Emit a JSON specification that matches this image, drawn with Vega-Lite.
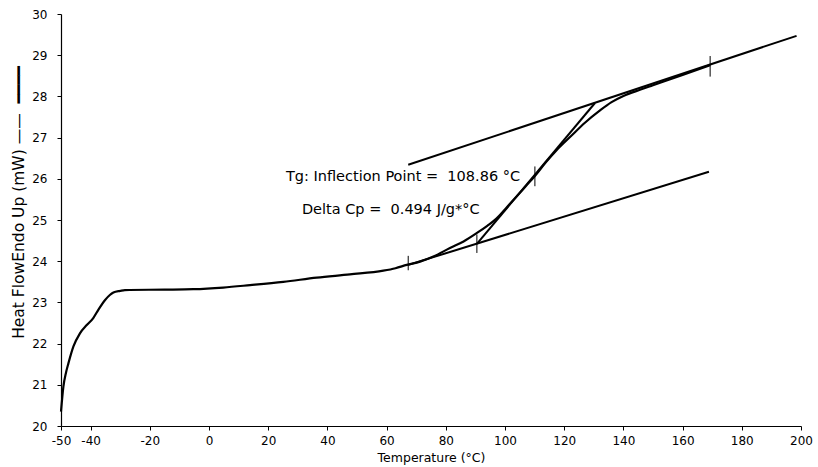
{
  "$schema": "https://vega.github.io/schema/vega-lite/v6.json",
  "width": 740,
  "height": 412,
  "autosize": "none",
  "padding": {"left": 61, "top": 14, "right": 17, "bottom": 41},
  "background": "white",
  "config": {
    "view": {"stroke": null},
    "font": "DejaVu Sans",
    "axis": {
      "grid": false,
      "domainColor": "black",
      "tickColor": "black",
      "labelColor": "black",
      "titleColor": "black",
      "labelFont": "DejaVu Sans",
      "titleFont": "DejaVu Sans",
      "labelFontSize": 12,
      "titleFontSize": 12.5,
      "titleFontWeight": "normal",
      "tickSize": 4,
      "domainWidth": 1.2,
      "tickWidth": 1,
      "labelFlush": false,
      "labelOverlap": false
    }
  },
  "datasets": {
    "curve": [
      {"T": -50.0, "v": 20.35},
      {"T": -49.2, "v": 20.95},
      {"T": -48.3, "v": 21.3},
      {"T": -47.5, "v": 21.52},
      {"T": -45.8, "v": 21.93},
      {"T": -43.6, "v": 22.25},
      {"T": -41.3, "v": 22.45},
      {"T": -39.1, "v": 22.62},
      {"T": -37.4, "v": 22.82},
      {"T": -35.1, "v": 23.06},
      {"T": -33.5, "v": 23.18},
      {"T": -32.3, "v": 23.24},
      {"T": -30.0, "v": 23.28},
      {"T": -28.4, "v": 23.30},
      {"T": -15.0, "v": 23.31},
      {"T": -5.3, "v": 23.32},
      {"T": 4.8, "v": 23.36},
      {"T": 13.9, "v": 23.42},
      {"T": 25.1, "v": 23.50},
      {"T": 36.4, "v": 23.60},
      {"T": 47.6, "v": 23.68},
      {"T": 58.9, "v": 23.77},
      {"T": 63.0, "v": 23.83},
      {"T": 66.8, "v": 23.91},
      {"T": 71.3, "v": 23.99},
      {"T": 76.0, "v": 24.12},
      {"T": 81.4, "v": 24.32},
      {"T": 86.0, "v": 24.48},
      {"T": 90.4, "v": 24.68},
      {"T": 94.0, "v": 24.86},
      {"T": 97.2, "v": 25.04},
      {"T": 100.5, "v": 25.30},
      {"T": 103.9, "v": 25.57},
      {"T": 107.0, "v": 25.82},
      {"T": 110.1, "v": 26.07},
      {"T": 113.8, "v": 26.40},
      {"T": 117.5, "v": 26.70},
      {"T": 122.5, "v": 27.05},
      {"T": 127.0, "v": 27.36},
      {"T": 132.1, "v": 27.66},
      {"T": 136.0, "v": 27.86},
      {"T": 140.0, "v": 28.01},
      {"T": 145.6, "v": 28.16},
      {"T": 150.0, "v": 28.27},
      {"T": 160.0, "v": 28.52},
      {"T": 169.3, "v": 28.76}
    ],
    "lines": [
      {"name": "upper tangent", "T": 67.3, "v": 26.34, "T2": 198.5, "v2": 29.47},
      {"name": "lower tangent", "T": 67.3, "v": 23.91, "T2": 168.9, "v2": 26.17},
      {"name": "half height", "T": 90.5, "v": 24.42, "T2": 130.4, "v2": 27.84}
    ],
    "ticks": [
      {"T": 67.3, "lo": 23.78, "hi": 24.13},
      {"T": 90.5, "lo": 24.2, "hi": 24.65},
      {"T": 110.1, "lo": 25.82, "hi": 26.3},
      {"T": 169.3, "lo": 28.48, "hi": 28.98}
    ],
    "labels": [
      {"T": 26.0, "v": 26.05, "text": "Tg: Inflection Point =\u00a0\u00a0108.86 °C"},
      {"T": 31.4, "v": 25.24, "text": "Delta Cp =\u00a0\u00a00.494 J/g*°C"}
    ]
  },
  "layer": [
    {
      "data": {"name": "curve"},
      "mark": {"type": "line", "color": "black", "strokeWidth": 2.2, "interpolate": "monotone"},
      "encoding": {
        "x": {
          "field": "T", "type": "quantitative",
          "scale": {"domain": [-50, 200], "nice": false, "zero": false},
          "axis": {
            "values": [-50, -40, -20, 0, 20, 40, 60, 80, 100, 120, 140, 160, 180, 200],
            "labelExpr": "replace(datum.label, '−', '-')",
            "title": "Temperature (°C)",
            "labelPadding": 5,
            "titlePadding": 5
          }
        },
        "y": {
          "field": "v", "type": "quantitative",
          "scale": {"domain": [20, 30], "nice": false, "zero": false},
          "axis": {
            "values": [20, 21, 22, 23, 24, 25, 26, 27, 28, 29, 30],
            "title": "Heat FlowEndo Up (mW)\u00a0——\u00a0\u00a0━━━━",
            "titleFontSize": 15.5,
            "labelPadding": 10,
            "titleX": -43,
            "titleY": 188,
            "titleAngle": -90,
            "titleAlign": "center",
            "titleBaseline": "middle"
          }
        },
        "order": {"field": "T"}
      }
    },
    {
      "data": {"name": "lines"},
      "mark": {"type": "rule", "color": "black", "strokeWidth": 2},
      "encoding": {
        "x": {"field": "T", "type": "quantitative"},
        "y": {"field": "v", "type": "quantitative"},
        "x2": {"field": "T2"},
        "y2": {"field": "v2"}
      }
    },
    {
      "data": {"name": "ticks"},
      "mark": {"type": "rule", "color": "black", "strokeWidth": 1},
      "encoding": {
        "x": {"field": "T", "type": "quantitative"},
        "y": {"field": "lo", "type": "quantitative"},
        "y2": {"field": "hi"}
      }
    },
    {
      "data": {"name": "labels"},
      "mark": {"type": "text", "align": "left", "baseline": "middle", "fontSize": 14.5, "font": "DejaVu Sans", "color": "black"},
      "encoding": {
        "x": {"field": "T", "type": "quantitative"},
        "y": {"field": "v", "type": "quantitative"},
        "text": {"field": "text"}
      }
    }
  ]
}
